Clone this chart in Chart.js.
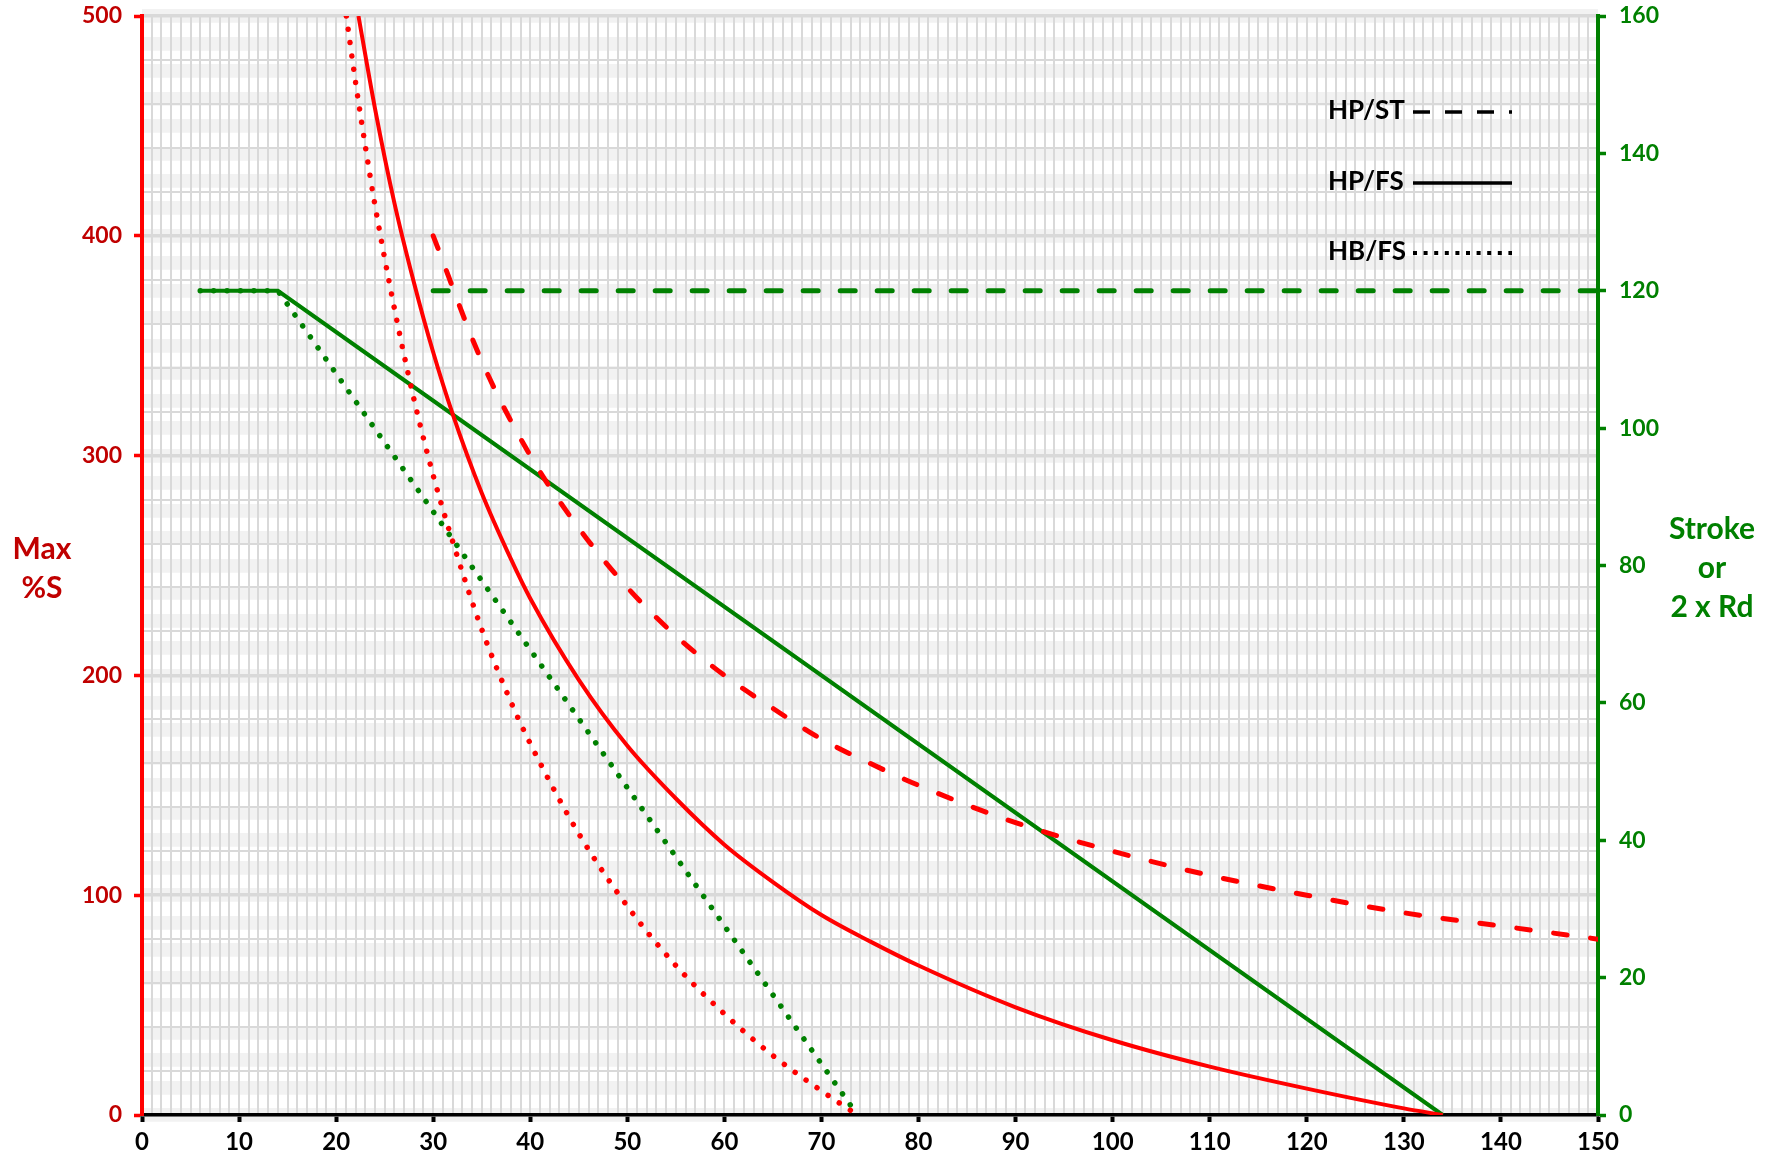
<!DOCTYPE html>
<html>
<head>
<meta charset="utf-8">
<script src="https://cdn.jsdelivr.net/npm/chart.js@4.4.1/dist/chart.umd.min.js"></script>
<style>
  html, body { margin: 0; padding: 0; background: #fff; }
  #graphique { width: 1769px; height: 1162px; }
</style>
</head>
<body>
<div id="graphique"><canvas id="canvas"></canvas></div>
<script>
// donnees : %S max (axe de gauche)
// HP/FS trait plein
const xHpFs = [22.3, 24, 26, 28, 30, 32, 35, 38, 40, 45, 50, 55, 60, 65, 70, 75, 80, 90, 100, 110, 120, 130, 134];
const sHpFs = [500, 458, 415, 379, 347, 319, 283, 253, 235, 198, 168, 144, 123, 106, 91, 79, 68, 49, 34, 22, 12, 3, 0];
// HB/FS pointilles
const xHbFs = [21.05, 22, 23, 24, 26, 28, 30, 32, 35, 38, 40, 45, 50, 55, 60, 65, 70, 73.7];
const sHbFs = [500, 470, 441, 414, 367, 326, 291, 261, 221, 188, 169, 128, 95, 68, 46, 27, 11, 0];
// HP/ST tirets
const xHpSt = [30, 35, 40, 45, 50, 55, 60, 65, 70, 75, 80, 90, 100, 110, 120, 130, 140, 150];
const sHpSt = [400, 343, 300, 267, 240, 218, 200, 185, 171, 160, 150, 133, 120, 109, 100, 92, 86, 80];

// course ou 2 x Rd (axe de droite)
const xCourseHpFs = [6, 14, 134];
const cCourseHpFs = [120, 120, 0];
const xCourseHbFs = [6, 14, 73.7];
const cCourseHbFs = [120, 120, 0];
const xCourseHpSt = [30, 150];
const cCourseHpSt = [120, 120];

// graduations
const ticksX = [0, 10, 20, 30, 40, 50, 60, 70, 80, 90, 100, 110, 120, 130, 140, 150];
const ticksS = [0, 100, 200, 300, 400, 500];
const ticksCourse = [0, 20, 40, 60, 80, 100, 120, 140, 160];

const rouge = "#ff0000";
const rougeTexte = "#c00000";
const vert = "#008000";
const police = "Lato, 'Open Sans', sans-serif";

// transforme deux listes en points {x, y}
function points(xs, ys) {
  const res = [];
  for (let i = 0; i < xs.length; i++) {
    res.push({ x: xs[i], y: ys[i] });
  }
  return res;
}

function graduations(liste) {
  return function (scale) {
    scale.ticks = liste.map((v) => ({ value: v }));
  };
}

// taille fixe des axes, sans marge ajoutee pour les etiquettes
function largeurFixe(largeur) {
  return function (scale) {
    scale.width = largeur;
    scale.paddingTop = 0;
    scale.paddingBottom = 0;
  };
}

// legende dessinee dans la zone du graphique (en haut a droite)
const pluginLegende = {
  id: "legende",
  afterDraw(chart) {
    const ctx = chart.ctx;
    ctx.save();
    ctx.font = "bold 26px " + police;
    ctx.fillStyle = "#000";
    ctx.textBaseline = "middle";
    ctx.textAlign = "left";
    const lignes = [
      { texte: "HP/ST", y: 111, dash: [17, 15] },
      { texte: "HP/FS", y: 182, dash: [] },
      { texte: "HB/FS", y: 252, dash: [4, 6.6] },
    ];
    for (const l of lignes) {
      ctx.fillText(l.texte, 1328, l.y);
      ctx.beginPath();
      ctx.strokeStyle = "#000";
      ctx.lineWidth = l.dash.length && l.dash[0] < 5 ? 4 : 3.5;
      ctx.setLineDash(l.dash);
      ctx.moveTo(1413, l.y + 1);
      ctx.lineTo(1512, l.y + 1);
      ctx.stroke();
    }
    ctx.setLineDash([]);

    // titres des axes (non tournes)
    ctx.textAlign = "center";
    ctx.textBaseline = "alphabetic";
    ctx.font = "bold 30px " + police;
    ctx.fillStyle = rougeTexte;
    ctx.fillText("Max", 42, 559);
    ctx.fillText("%S", 42, 598);
    ctx.fillStyle = vert;
    ctx.fillText("Stroke", 1712, 539);
    ctx.fillText("or", 1712, 578);
    ctx.fillText("2 x Rd", 1712, 617);
    ctx.restore();
  },
};

Chart.defaults.font.family = police;

const config = {
  type: "line",
  data: {
    datasets: [
      {
        label: "HP/FS",
        data: points(xHpFs, sHpFs),
        yAxisID: "y",
        borderColor: rouge,
        borderWidth: 4,
        cubicInterpolationMode: "monotone",
      },
      {
        label: "HB/FS",
        data: points(xHbFs, sHbFs),
        yAxisID: "y",
        borderColor: rouge,
        borderWidth: 5.5,
        borderDash: [0.01, 13.4],
        borderCapStyle: "round",
        cubicInterpolationMode: "monotone",
      },
      {
        label: "HP/ST",
        data: points(xHpSt, sHpSt),
        yAxisID: "y",
        borderColor: rouge,
        borderWidth: 5,
        borderDash: [13.6, 23.6],
        borderCapStyle: "round",
        cubicInterpolationMode: "monotone",
      },
      {
        label: "Course HP/FS",
        data: points(xCourseHpFs, cCourseHpFs),
        yAxisID: "y2",
        borderColor: vert,
        borderWidth: 4,
      },
      {
        label: "Course HB/FS",
        data: points(xCourseHbFs, cCourseHbFs),
        yAxisID: "y2",
        borderColor: vert,
        borderWidth: 5.5,
        borderDash: [0.01, 13.4],
        borderCapStyle: "round",
      },
      {
        label: "Course HP/ST",
        data: points(xCourseHpSt, cCourseHpSt),
        yAxisID: "y2",
        borderColor: vert,
        borderWidth: 5,
        borderDash: [15, 22],
        borderCapStyle: "round",
      },
    ],
  },
  options: {
    responsive: true,
    maintainAspectRatio: false,
    animation: false,
    layout: { padding: { top: 16, left: 0, right: 0, bottom: 0 } },
    elements: { point: { radius: 0, hoverRadius: 0 }, line: { fill: false } },
    plugins: { legend: { display: false }, tooltip: { enabled: false } },
    scales: {
      x: {
        type: "linear",
        position: "bottom",
        min: 0,
        max: 150,
        afterBuildTicks: graduations(ticksX),
        ticks: { color: "#000", font: { size: 24, weight: "bold" }, padding: 6, maxRotation: 0 },
        grid: { drawOnChartArea: false, drawTicks: true, tickLength: 7, tickWidth: 4, tickColor: "#000" },
        border: { color: "#000", width: 3.5 },
        afterFit(scale) { scale.height = 47; },
      },
      y: {
        type: "linear",
        position: "left",
        min: 0,
        max: 500,
        afterBuildTicks: graduations(ticksS),
        ticks: { color: rougeTexte, font: { size: 23, weight: "bold" }, padding: 12 },
        grid: { drawOnChartArea: false, drawTicks: true, tickLength: 8, tickWidth: 3.5, tickColor: rouge },
        border: { color: rouge, width: 4 },
        afterFit: largeurFixe(142),
      },
      y2: {
        type: "linear",
        position: "right",
        min: 0,
        max: 160,
        afterBuildTicks: graduations(ticksCourse),
        ticks: { color: vert, font: { size: 23, weight: "bold" }, padding: 13 },
        grid: { drawOnChartArea: false, drawTicks: true, tickLength: 8, tickWidth: 3.5, tickColor: vert },
        border: { color: vert, width: 4 },
        afterFit: largeurFixe(171),
      },
      // grilles (axes caches)
      grilleX: {
        type: "linear",
        axis: "x",
        position: "bottom",
        min: 0,
        max: 150,
        ticks: { display: false, stepSize: 1, maxTicksLimit: 1000 },
        grid: { color: "#d9d9d9", lineWidth: 2, drawTicks: false },
        border: { display: false },
        afterFit(scale) { scale.height = 0; },
      },
      grilleY: {
        type: "linear",
        axis: "y",
        position: "left",
        min: 0,
        max: 500,
        ticks: { display: false, stepSize: 20, maxTicksLimit: 1000 },
        grid: {
          color: "#d9d9d9",
          lineWidth: (c) => (c.tick && c.tick.value % 100 === 0 ? 3.5 : 2),
          drawTicks: false,
        },
        border: { display: false },
        afterFit: largeurFixe(0),
      },
      bandes: {
        type: "linear",
        axis: "y",
        position: "right",
        min: 0,
        max: 160,
        ticks: { display: false, stepSize: 4, maxTicksLimit: 1000 },
        grid: { color: "#f2f2f2", lineWidth: 13.75, drawTicks: false, z: -2 },
        border: { display: false },
        afterFit: largeurFixe(0),
      },
    },
  },
  plugins: [pluginLegende],
};

new Chart(document.querySelector("#canvas"), config);
</script>
</body>
</html>
